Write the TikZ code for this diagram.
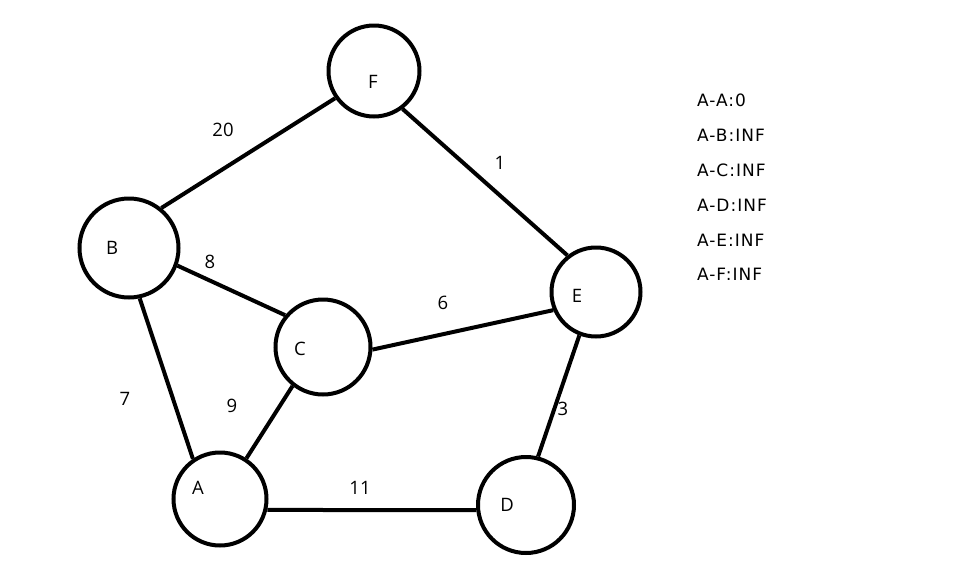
\documentclass[tikz,border=0pt]{standalone}
\usepackage{fontspec}
\setmainfont{Open Sans}
\newfontfamily\listfont[LetterSpace=6]{DejaVu Sans}

\begin{document}
\begin{tikzpicture}[x=1pt,y=-1pt,line width=4pt,v/.style={draw,circle,inner sep=0pt,minimum size=#1},t/.style={font=\fontsize{18.5}{20}\selectfont,inner sep=0pt},l/.style={font=\listfont\fontsize{17}{20}\selectfont,inner sep=0pt,anchor=west}]
\useasboundingbox (0,0) rectangle (962,563);
% vertices
\node[v=91pt] (F) at (374,71) {};
\node[v=99pt] (B) at (129,248) {};
\node[v=95pt] (C) at (323,347) {};
\node[v=89pt] (E) at (596,292) {};
\node[v=93pt] (A) at (220,499) {};
\node[v=96pt] (D) at (526,505) {};
\node[t] (lF) at (373,82) {F};
\node[t] (lB) at (112,248) {B};
\node[t] (lC) at (300,349) {C};
\node[t] (lE) at (577,296) {E};
\node[t] (lA) at (198,488) {A};
\node[t] (lD) at (507,505) {D};
% edges
\draw (F.215) -- (B.51); \draw (F.307) -- (E.128); \draw (B.-20) -- (C.140); \draw (B.-78) -- (A.124);
\draw (C.-3) -- (E.203); \draw (A.57) -- (C.232); \draw (A.-13) -- (D.186); \draw (D.76) -- (E.249);
% weights
\node[t] (wFB) at (223,130) {20};
\node[t] (wFE) at (500,163) {1};
\node[t] (wBC) at (210,262) {8};
\node[t] (wCE) at (443,303) {6};
\node[t] (wBA) at (125,399) {7};
\node[t] (wAC) at (232,406) {9};
\node[t] (wAD) at (360,488) {11};
\node[t] (wDE) at (563,409) {3};
% distances
\foreach \n/\d [count=\i] in {A/0,B/INF,C/INF,D/INF,E/INF,F/INF}
  \node[l] (d\n) at (695,{100.7+34.8*(\i-1)}) {A-\n:\d};
\end{tikzpicture}
\end{document}
